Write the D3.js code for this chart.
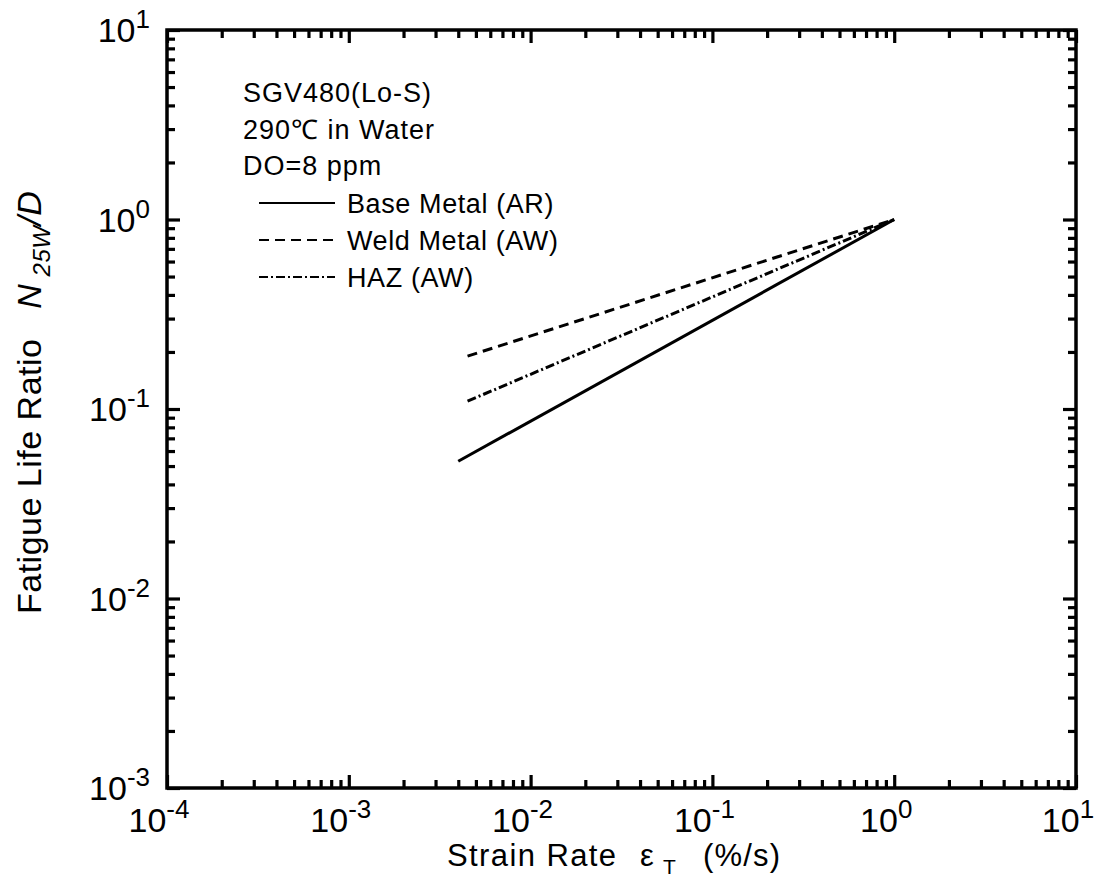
<!DOCTYPE html>
<html>
<head>
<meta charset="utf-8">
<script src="https://cdn.jsdelivr.net/npm/d3@7"></script>
<style>
  body { margin: 0; background: #fff; }
  svg { font-family: "Liberation Sans", Arial, sans-serif; }
  text { white-space: pre; }
</style>
</head>
<body>
<svg width="1110" height="881"></svg>
<script>
// Data
const seriesNames = ["Base Metal (AR)", "Weld Metal (AW)", "HAZ (AW)"];
const seriesDash = ["none", "10,6", "9,3,2,3"];
const baseMetal = [[0.004, 0.053], [1, 1]];
const weldMetal = [[0.0045, 0.19], [1, 1]];
const hazMetal = [[0.0045, 0.11], [1, 1]];
const xDecades = [-4, -3, -2, -1, 0, 1];
const yDecades = [-3, -2, -1, 0, 1];
const noteLines = ["SGV480(Lo-S)", "290\u2103 in Water", "DO=8 ppm"];

const svg = d3.select("svg");
const plotLeft = 167, plotRight = 1076, plotTop = 30, plotBottom = 788;

const x = d3.scaleLog().domain([1e-4, 10]).range([plotLeft, plotRight]);
const y = d3.scaleLog().domain([1e-3, 10]).range([plotBottom, plotTop]);

// minor/major tick positions
const minorX = [], minorY = [];
xDecades.slice(0, -1).forEach(d => { for (let k = 2; k <= 9; k++) minorX.push(k * Math.pow(10, d)); });
yDecades.slice(0, -1).forEach(d => { for (let k = 2; k <= 9; k++) minorY.push(k * Math.pow(10, d)); });
const majorX = xDecades.map(d => Math.pow(10, d));
const majorY = yDecades.map(d => Math.pow(10, d));

// inward ticks on all four sides via d3 axes
function addAxis(axis, tx, ty) {
  const a = svg.append("g").attr("transform", `translate(${tx},${ty})`).call(axis);
  a.select(".domain").remove();
  a.selectAll(".tick line").attr("stroke", "#000").attr("stroke-width", 3.2);
  a.selectAll(".tick text").remove();
}
[[minorX, 8], [majorX, 13]].forEach(([vals, len]) => {
  addAxis(d3.axisBottom(x).tickValues(vals).tickSize(-len), 0, plotBottom);
  addAxis(d3.axisTop(x).tickValues(vals).tickSize(-len), 0, plotTop);
});
[[minorY, 8], [majorY, 13]].forEach(([vals, len]) => {
  addAxis(d3.axisLeft(y).tickValues(vals).tickSize(-len), plotLeft, 0);
  addAxis(d3.axisRight(y).tickValues(vals).tickSize(-len), plotRight, 0);
});

// frame
svg.append("rect")
  .attr("x", plotLeft).attr("y", plotTop)
  .attr("width", plotRight - plotLeft).attr("height", plotBottom - plotTop)
  .attr("fill", "none").attr("stroke", "#000").attr("stroke-width", 3.5);

// tick labels
xDecades.forEach(d => {
  const t = svg.append("text")
    .attr("x", x(Math.pow(10, d)) - 8).attr("y", 832)
    .attr("text-anchor", "middle").attr("font-size", 34);
  t.append("tspan").text("10");
  t.append("tspan").attr("dy", -14).attr("font-size", 26).text(d);
});
yDecades.forEach(d => {
  const t = svg.append("text")
    .attr("x", 150).attr("y", y(Math.pow(10, d)) + 12)
    .attr("text-anchor", "end").attr("font-size", 34);
  t.append("tspan").text("10");
  t.append("tspan").attr("dy", -14).attr("font-size", 26).text(d);
});

// x axis title
svg.append("text").attr("x", 447).attr("y", 866).attr("font-size", 31)
  .attr("letter-spacing", 1.4).text("Strain Rate");
svg.append("text").attr("x", 640).attr("y", 866).attr("font-size", 31).text("\u03b5");
svg.append("text").attr("x", 663).attr("y", 874).attr("font-size", 21).text("T");
svg.append("text").attr("x", 703).attr("y", 866).attr("font-size", 31)
  .attr("letter-spacing", 1.2).text("(%/s)");

// y axis title
const yt = svg.append("text")
  .attr("transform", "translate(41,614) rotate(-90)")
  .attr("font-size", 34).attr("letter-spacing", 0.5);
yt.append("tspan").text("Fatigue Life Ratio   ");
yt.append("tspan").attr("font-style", "italic").text("N");
yt.append("tspan").attr("font-style", "italic").attr("dy", 9).attr("font-size", 24).text(" 25W");
yt.append("tspan").attr("font-style", "italic").attr("dy", -9).text("/D");

// curves
const line = d3.line().x(d => x(d[0])).y(d => y(d[1]));
[baseMetal, weldMetal, hazMetal].forEach((s, i) => {
  svg.append("path").attr("d", line(s))
    .attr("fill", "none").attr("stroke", "#000").attr("stroke-width", 3)
    .attr("stroke-dasharray", seriesDash[i]);
});

// notes and legend
noteLines.forEach((t, i) => {
  svg.append("text").attr("x", 243).attr("y", 102 + i * 36.5)
    .attr("font-size", 27).attr("letter-spacing", 1).text(t);
});
seriesNames.forEach((n, i) => {
  const yy = 203 + i * 37;
  svg.append("line").attr("x1", 259).attr("x2", 335).attr("y1", yy).attr("y2", yy)
    .attr("stroke", "#000").attr("stroke-width", 2).attr("stroke-dasharray", seriesDash[i]);
  svg.append("text").attr("x", 347).attr("y", yy + 10).attr("font-size", 27)
    .attr("letter-spacing", 0.6).text(n);
});
</script>
</body>
</html>
